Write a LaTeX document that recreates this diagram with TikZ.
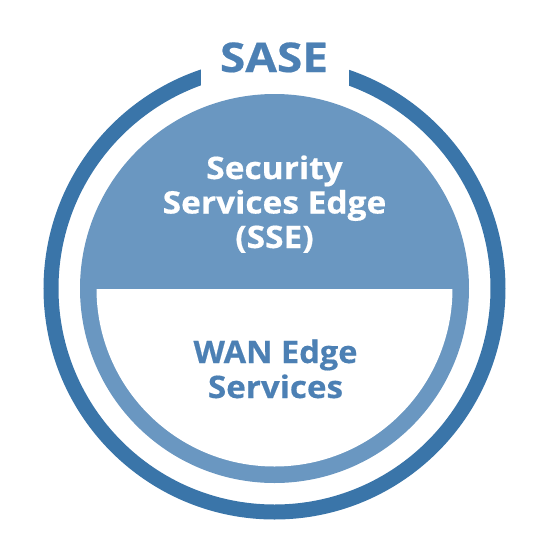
\documentclass[tikz,border=0pt]{standalone}
\usepackage{fontspec}
\setmainfont{Open Sans}[BoldFont={* Bold}, BoldFeatures={FakeBold=0.5}]
\definecolor{ringdark}{RGB}{58,117,169}
\definecolor{ringlight}{RGB}{106,151,193}
\definecolor{textblue}{RGB}{76,128,180}
\newcommand{\wide}[2]{\scalebox{#1}[1]{#2}}
\begin{document}
\begin{tikzpicture}[x=1pt,y=-1pt,
  gapbox/.style={fill=white, minimum width=148pt, minimum height=50pt, inner sep=0pt},
  titletext/.style={font=\bfseries\fontsize{41}{42}\selectfont, text=textblue, inner sep=0pt},
  toptext/.style={font=\bfseries\fontsize{31}{34.5}\selectfont, text=white, align=center, inner sep=0pt},
  bottext/.style={font=\bfseries\fontsize{31}{35}\selectfont, text=textblue, align=center, inner sep=0pt}]
\useasboundingbox (0,0) rectangle (550,550);
\coordinate (c) at (274.5,288.5);
% outer ring
\draw[ringdark, line width=15pt] (c) circle (223.5);
% gap in the ring behind the title
\node[gapbox] (gap) at (275,64) {};
\node[titletext, anchor=base] (sase) at (274,72) {\wide{1.12}{SASE}};
% inner disc
\fill[ringlight] (c) circle (194.5);
\begin{scope}
  \clip (0,289) rectangle (550,550);
  \fill[white] (c) circle (178);
\end{scope}
\node[toptext, anchor=base] (sse) at (274.5,248) {\wide{1.08}{Security}\\\wide{1.08}{Services Edge}\\\wide{1.08}{(SSE)}};
\node[bottext, anchor=base] (wan) at (275.5,398) {\wide{1.05}{WAN Edge}\\\wide{1.07}{Services}};
\end{tikzpicture}
\end{document}
